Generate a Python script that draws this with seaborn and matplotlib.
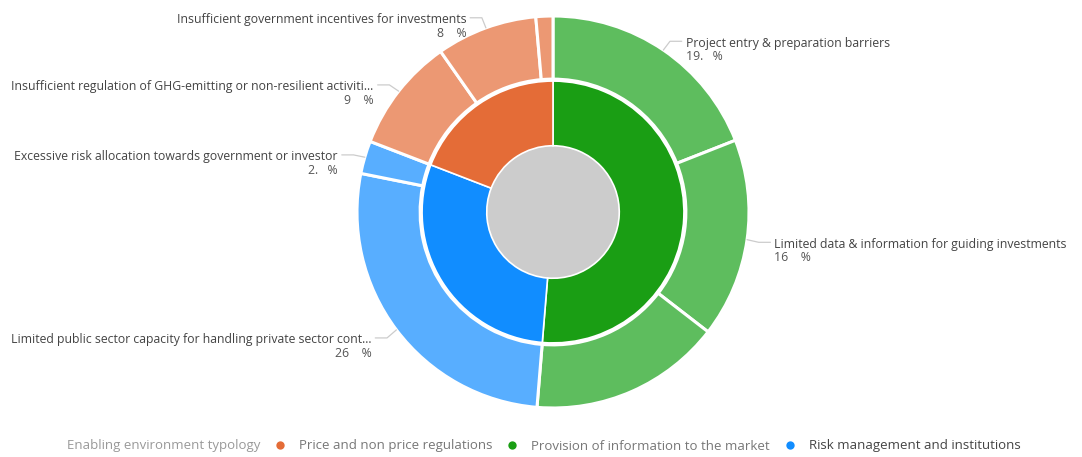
import numpy as np
import seaborn as sns
import matplotlib.pyplot as plt
from matplotlib.lines import Line2D
from matplotlib.patches import Circle

# outer ring: sub-barriers, clockwise from 12 o'clock
sub_labels = [
    "Project entry & preparation barriers",
    "Limited data & information for guiding investments",
    "",
    "Limited public sector capacity for handling private sector cont...",
    "Excessive risk allocation towards government or investor",
    "Insufficient regulation of GHG-emitting or non-resilient activiti...",
    "Insufficient government incentives for investments",
    "",
]
sub_values = [19.0, 16.4, 15.8, 26.8, 2.7, 9.4, 8.3, 1.4]
sub_pct_text = ["19.   %", "16    %", "", "26    %", "2.   %", "9    %", "8    %", ""]
sub_group = [1, 1, 1, 2, 2, 0, 0, 0]

# inner ring: typology groups
groups = ["Price and non price regulations",
          "Provision of information to the market",
          "Risk management and institutions"]
inner_order = [1, 2, 0]
legend_title = "Enabling environment typology"

inner_colors = ["#E46C37", "#1A9E14", "#118DFF"]
outer_colors = ["#EC9873", "#5EBD5E", "#58AEFF"]

sns.set_theme(style="white")
plt.rcParams["font.family"] = ["Open Sans", "DejaVu Sans"]

fig = plt.figure(figsize=(10.82, 4.57), dpi=100)
W, H = 1082, 457
cx, cy, R = 553, 212, 196
ax = fig.add_axes([(cx - R) / W, (H - cy - R) / H, 2 * R / W, 2 * R / H])

group_totals = [sum(v for v, g in zip(sub_values, sub_group) if g == k) for k in range(3)]

outer_wedges, _ = ax.pie(
    sub_values, radius=1.0, startangle=90, counterclock=False,
    colors=[outer_colors[g] for g in sub_group],
    wedgeprops=dict(width=0.322, edgecolor="white", linewidth=2.2),
)
ax.pie(
    [group_totals[k] for k in inner_order], radius=0.668, startangle=90, counterclock=False,
    colors=[inner_colors[k] for k in inner_order],
    wedgeprops=dict(width=0.33, edgecolor="white", linewidth=1.2),
)
ax.add_patch(Circle((0, 0), 0.338, color="#CCCCCC", zorder=0))
ax.set_xlim(-1, 1)
ax.set_ylim(-1, 1)
ax.set_aspect("equal")
ax.axis("off")

# leader lines and labels
for w, name, pct in zip(outer_wedges, sub_labels, sub_pct_text):
    if not name:
        continue
    ang = np.deg2rad((w.theta1 + w.theta2) / 2)
    x0, y0 = np.cos(ang) * 1.0, np.sin(ang) * 1.0
    x1, y1 = np.cos(ang) * 1.06, np.sin(ang) * 1.06 - 0.005
    side = 1 if x0 >= 0 else -1
    x2 = x1 + side * 0.06
    ax.plot([x0, x1, x2], [y0, y1, y1], color="#CCCCCC", lw=0.9, clip_on=False)
    ha = "left" if side > 0 else "right"
    tx = x2 + side * 0.02
    ax.text(tx, y1 - 0.01, name, ha=ha, va="center", fontsize=8.8, color="#444444", clip_on=False)
    ax.text(tx, y1 - 0.078, pct, ha=ha, va="center", fontsize=8.8, color="#555555", clip_on=False)

# legend
fig.text(67 / W, 1 - 446 / H, legend_title, ha="left", va="center", fontsize=9.5, color="#999999")
handles = [Line2D([], [], marker="o", linestyle="", markersize=6,
                  markerfacecolor=inner_colors[k], markeredgecolor="none") for k in range(3)]
leg = fig.legend(handles, groups, loc="center left", bbox_to_anchor=(273 / W, 1 - 446 / H),
                 ncol=3, frameon=False, fontsize=9.5, handlelength=1.0, handletextpad=0.95,
                 columnspacing=1.0, borderaxespad=0, borderpad=0)
for t, c in zip(leg.get_texts(), ["#777777", "#777777", "#444444"]):
    t.set_color(c)

fig.savefig("out.png", dpi=100)
